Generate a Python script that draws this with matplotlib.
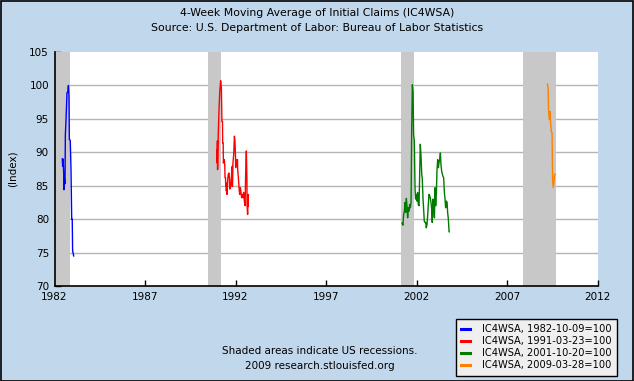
import matplotlib
matplotlib.use("Agg")
import matplotlib.pyplot as plt
from matplotlib.lines import Line2D

# recession periods (decimal years), clipped by the x range
recessions = [(1981.5, 1982.84), (1990.50, 1991.18), (2001.14, 2001.84), (2007.88, 2009.71)]

# IC4WSA, 1982-10-09=100
blue_x = [1982.43, 1982.45, 1982.47, 1982.49, 1982.51, 1982.52, 1982.54, 1982.58, 1982.60,
          1982.64, 1982.67, 1982.69, 1982.73, 1982.77, 1982.80, 1982.82, 1982.87, 1982.91,
          1982.95, 1982.98, 1983.00, 1983.06]
blue_y = [89.0, 87.9, 89.0, 88.0, 86.7, 84.4, 86.2, 85.3, 92.6,
          95.1, 97.4, 98.9, 99.0, 100.0, 98.4, 91.9, 91.8, 87.6,
          80.0, 80.0, 75.3, 74.5]

# IC4WSA, 1991-03-23=100
red_x = [1990.97, 1990.98, 1991.00, 1991.01, 1991.05, 1991.09, 1991.13, 1991.18, 1991.22,
         1991.25, 1991.28, 1991.29, 1991.32, 1991.33, 1991.38, 1991.41, 1991.42, 1991.45,
         1991.46, 1991.48, 1991.49, 1991.52, 1991.53, 1991.57, 1991.60, 1991.64, 1991.67,
         1991.68, 1991.72, 1991.75, 1991.79, 1991.82, 1991.83, 1991.86, 1991.90, 1991.94,
         1991.97, 1992.00, 1992.01, 1992.05, 1992.08, 1992.11, 1992.12, 1992.16, 1992.19,
         1992.23, 1992.27, 1992.30, 1992.34, 1992.38, 1992.41, 1992.45, 1992.49, 1992.53,
         1992.56, 1992.60, 1992.63, 1992.64, 1992.67, 1992.70, 1992.71]
red_y = [90.4, 88.4, 91.7, 87.4, 92.9, 96.4, 99.1, 100.7, 99.6,
         94.6, 94.6, 91.4, 91.4, 88.4, 88.9, 87.9, 86.2, 86.2,
         84.9, 85.4, 84.2, 84.9, 83.7, 85.9, 86.7, 86.9, 85.9,
         84.5, 84.7, 85.4, 86.9, 87.9, 84.9, 88.4, 89.7, 92.4,
         91.7, 89.4, 87.7, 88.4, 88.9, 88.9, 87.4, 86.2, 84.9,
         83.7, 84.7, 84.0, 83.2, 83.7, 83.2, 84.0, 82.7, 82.0,
         86.7, 90.2, 85.9, 82.0, 80.7, 83.7, 82.0]

# IC4WSA, 2001-10-20=100
green_x = [2001.20, 2001.25, 2001.29, 2001.33, 2001.37, 2001.40, 2001.44, 2001.48, 2001.51,
           2001.55, 2001.59, 2001.62, 2001.66, 2001.70, 2001.73, 2001.77, 2001.81, 2001.84,
           2001.88, 2001.92, 2001.95, 2001.99, 2002.03, 2002.06, 2002.10, 2002.14, 2002.18,
           2002.21, 2002.25, 2002.29, 2002.32, 2002.36, 2002.40, 2002.43, 2002.47, 2002.51,
           2002.54, 2002.58, 2002.62, 2002.65, 2002.69, 2002.73, 2002.76, 2002.80, 2002.84,
           2002.87, 2002.91, 2002.95, 2002.99, 2003.02, 2003.06, 2003.10, 2003.13, 2003.17,
           2003.21, 2003.24, 2003.28, 2003.32, 2003.35, 2003.39, 2003.43, 2003.46, 2003.50,
           2003.54, 2003.57, 2003.61, 2003.65, 2003.69, 2003.72, 2003.76, 2003.80, 2003.81]
green_y = [79.4, 79.1, 80.7, 81.2, 82.5, 81.0, 83.1, 81.7, 80.2,
           81.7, 81.2, 82.2, 81.7, 82.5, 92.4, 100.1, 99.1, 92.6,
           91.7, 84.5, 83.0, 83.7, 82.7, 84.0, 82.2, 82.0, 87.4,
           91.2, 89.4, 86.7, 86.0, 83.0, 81.2, 79.7, 79.5, 79.5,
           78.7, 79.2, 80.7, 82.0, 83.7, 83.5, 83.2, 82.5, 81.5,
           79.5, 83.0, 82.0, 80.2, 84.7, 82.0, 84.0, 87.2, 88.9,
           87.7, 88.4, 88.9, 89.9, 88.2, 87.2, 86.7, 86.4, 86.2,
           84.0, 83.2, 81.7, 82.7, 82.5, 81.0, 80.0, 78.1, 78.1]

# IC4WSA, 2009-03-28=100
orange_x = [2009.23, 2009.27, 2009.30, 2009.34, 2009.38, 2009.41, 2009.45, 2009.49, 2009.52,
            2009.56, 2009.60, 2009.63, 2009.67]
orange_y = [100.2, 99.6, 96.1, 94.9, 96.1, 94.4, 93.1, 92.9, 85.7,
            84.7, 85.7, 86.7, 86.7]

series = [
    (blue_x, blue_y, "#0000ff", "IC4WSA, 1982-10-09=100"),
    (red_x, red_y, "#ff0000", "IC4WSA, 1991-03-23=100"),
    (green_x, green_y, "#007a00", "IC4WSA, 2001-10-20=100"),
    (orange_x, orange_y, "#ff8000", "IC4WSA, 2009-03-28=100"),
]

x_ticks = [1982, 1987, 1992, 1997, 2002, 2007, 2012]
y_ticks = [70, 75, 80, 85, 90, 95, 100, 105]

W, H = 634, 381
bg = "#c1d7eb"
fig = plt.figure(figsize=(W / 100, H / 100), dpi=100, facecolor=bg)
fig.patches.append(plt.Rectangle((0.5 / W, 0.5 / H), 1 - 1.5 / W, 1 - 1.5 / H,
                                 transform=fig.transFigure, fill=False,
                                 edgecolor="black", linewidth=1.2))

left, right, top, bottom = 54.5, 597.5, 52, 286
ax = fig.add_axes([left / W, (H - bottom) / H, (right - left) / W, (bottom - top) / H])
ax.set_facecolor("white")

# grid first, then recession bands on top, then series
for v in y_ticks[1:-1]:
    ax.axhline(v, color="#b4b4b4", linewidth=1.0, zorder=1)
for a, b in recessions:
    ax.axvspan(a, b, color="#c8c8c8", linewidth=0, zorder=2)
for xs, ys, c, lab in series:
    ax.plot(xs, ys, color=c, linewidth=1.0, zorder=3)

ax.set_xlim(1982, 2012)
ax.set_ylim(70, 105)
ax.set_xticks(x_ticks)
ax.set_yticks(y_ticks)
ax.set_xticklabels([str(t) for t in x_ticks])
ax.set_yticklabels([str(t) for t in y_ticks])
ax.tick_params(direction="in", length=4, width=1, labelsize=7.5, colors="black", pad=4)
for s in ["top", "right"]:
    ax.spines[s].set_visible(False)
for s in ["left", "bottom"]:
    ax.spines[s].set_linewidth(1.2)
ax.set_ylabel("(Index)", fontsize=7.5)
ax.yaxis.set_label_coords(-0.068, 0.5)

fig.text(0.5, 1 - 13 / H, "4-Week Moving Average of Initial Claims (IC4WSA)",
         ha="center", va="center", fontsize=7.8)
fig.text(0.5, 1 - 28 / H, "Source: U.S. Department of Labor: Bureau of Labor Statistics",
         ha="center", va="center", fontsize=7.8)
fig.text(320 / W, 1 - 351 / H, "Shaded areas indicate US recessions.",
         ha="center", va="center", fontsize=7.5)
fig.text(320 / W, 1 - 366 / H, "2009 research.stlouisfed.org",
         ha="center", va="center", fontsize=7.5)

handles = [Line2D([], [], color=c, linewidth=2.2) for _, _, c, _ in series]
labels = [lab for _, _, _, lab in series]
leg = fig.legend(handles, labels, loc="upper left",
                 bbox_to_anchor=(456 / W, 1 - 319 / H), fontsize=7.1,
                 frameon=True, fancybox=False, handlelength=0.9,
                 handletextpad=1.2, labelspacing=0.2, borderpad=0.55,
                 borderaxespad=0)
leg.get_frame().set_facecolor("#efefef")
leg.get_frame().set_edgecolor("black")
leg.get_frame().set_linewidth(1.0)
leg.get_frame().set_alpha(1)

fig.savefig("out.png", dpi=100, facecolor=bg)
